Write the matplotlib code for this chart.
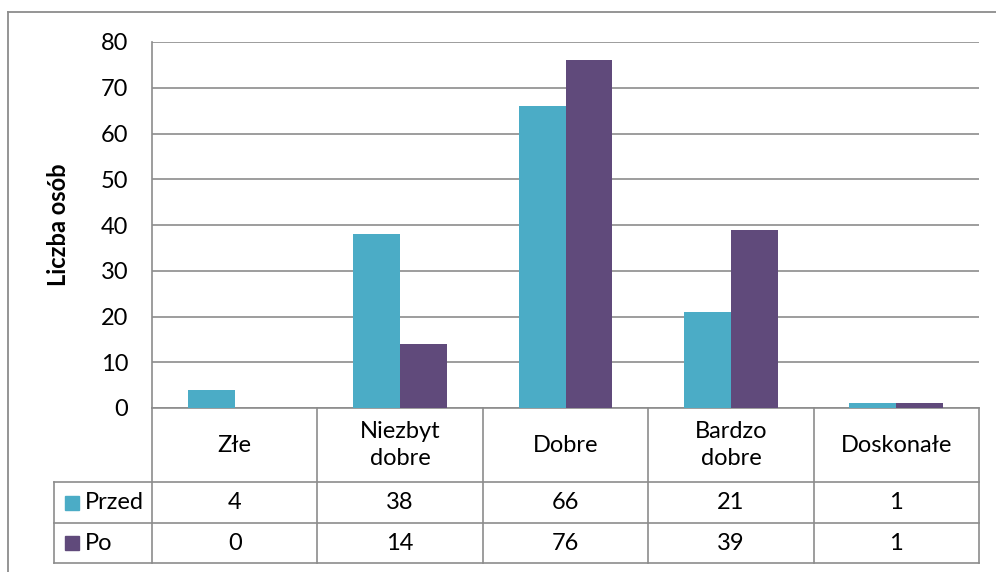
import numpy as np
import matplotlib
matplotlib.use("Agg")
import matplotlib.pyplot as plt

plt.rcParams["font.family"] = ["Lato", "DejaVu Sans"]

# Data
categories = ["Złe", "Niezbyt\ndobre", "Dobre", "Bardzo\ndobre", "Doskonałe"]
series_names = ["Przed", "Po"]
przed = [4, 38, 66, 21, 1]
po = [0, 14, 76, 39, 1]
y_ticks = [0, 10, 20, 30, 40, 50, 60, 70, 80]
y_label = "Liczba osób"

colors = ["#4BACC6", "#604A7B"]
grid_col = "#8c8c8c"
line_col = "#8c8c8c"
fs = 17

W, H = 996, 572
fig = plt.figure(figsize=(W / 100, H / 100), dpi=100)


def box(l, t, r, b):
    return [l / W, 1 - b / H, (r - l) / W, (b - t) / H]


# Outer chart frame
fig.add_artist(plt.Line2D([8 / W, 8 / W], [0, 1 - 12 / H], color=line_col, lw=1.3))
fig.add_artist(plt.Line2D([8 / W, 1], [1 - 12 / H, 1 - 12 / H], color=line_col, lw=1.3))

# Bar chart
ax = fig.add_axes(box(152, 42, 979, 408))
x = np.arange(len(categories))
bw = 0.284
ax.bar(x - bw / 2, przed, bw, color=colors[0], zorder=3)
ax.bar(x + bw / 2, po, bw, color=colors[1], zorder=3)
ax.set_xlim(-0.5, len(categories) - 0.5)
ax.set_ylim(0, 80)
ax.set_yticks(y_ticks)
ax.set_xticks([])
ax.yaxis.grid(True, color=grid_col, lw=1.2)
ax.set_axisbelow(True)
for s in ["top", "right"]:
    ax.spines[s].set_visible(False)
for s in ["left", "bottom"]:
    ax.spines[s].set_color(line_col)
    ax.spines[s].set_linewidth(1.2)
ax.tick_params(axis="y", length=0, pad=17, labelsize=fs)
fig.text(58 / W, 1 - 225 / H, y_label, rotation=90, ha="center", va="center",
         fontsize=fs, fontweight="bold")

# Data table below the plot
cat_px = 827 / len(categories)
leg_w = 98 / cat_px
tax = fig.add_axes(box(54, 408, 979, 563))
tax.set_xlim(-0.5 - leg_w, len(categories) - 0.5)
tax.set_ylim(155, 0)
tax.axis("off")

row_edges = [0, 74, 115, 155]
left = -0.5 - leg_w
right = len(categories) - 0.5
kw = dict(color=line_col, lw=1.2, clip_on=False)
for yv in row_edges[1:]:
    tax.plot([left, right], [yv, yv], **kw)
tax.plot([left, left], [row_edges[1], row_edges[3]], **kw)
for xv in np.arange(-0.5, len(categories), 1.0):
    tax.plot([xv, xv], [0, row_edges[3]], **kw)

for i, c in enumerate(categories):
    tax.text(i, (row_edges[0] + row_edges[1]) / 2, c, ha="center", va="center",
             fontsize=fs, linespacing=1.35)
    tax.text(i, (row_edges[1] + row_edges[2]) / 2, str(przed[i]), ha="center",
             va="center", fontsize=fs)
    tax.text(i, (row_edges[2] + row_edges[3]) / 2, str(po[i]), ha="center",
             va="center", fontsize=fs)

for k, name in enumerate(series_names):
    yc = (row_edges[k + 1] + row_edges[k + 2]) / 2
    tax.plot([left + 17.5 / cat_px], [yc], marker="s", ms=10.5, color=colors[k],
             clip_on=False, lw=0)
    tax.text(left + 31 / cat_px, yc, name, ha="left", va="center", fontsize=fs)

fig.savefig("out.png", dpi=100)
